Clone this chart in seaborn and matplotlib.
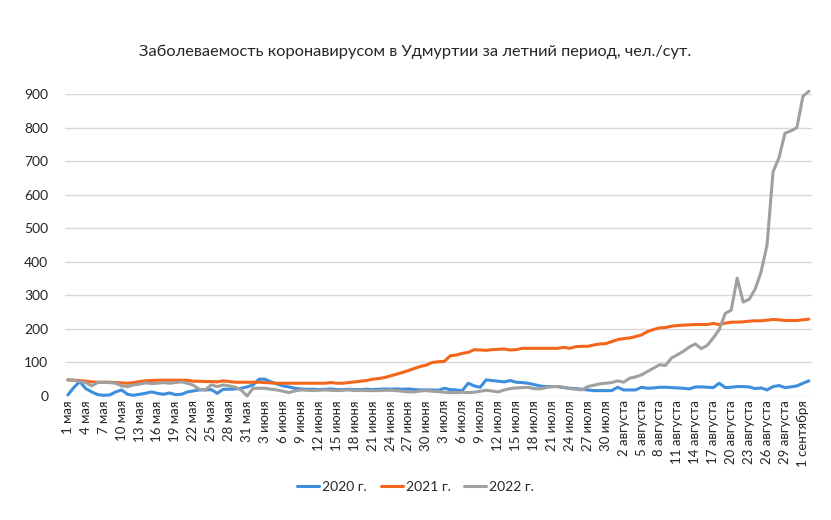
import pandas as pd
import matplotlib.pyplot as plt
import seaborn as sns

# months and day counts for the summer period (1 May .. 2 September)
months = [('мая', 31), ('июня', 30), ('июля', 31), ('августа', 31), ('сентября', 2)]
days = []
for name, n in months:
    for d in range(1, n + 1):
        days.append(f'{d} {name}')

cases_2020 = [3, 25, 43, 22, 12, 4, 2, 3, 12, 18,
              5, 2, 5, 8, 12, 8, 5, 9, 4, 5,
              12, 15, 18, 18, 19, 8, 20, 20, 21, 23,
              27, 33, 50, 50, 42, 36, 30, 27, 23, 21,
              20, 20, 19, 20, 21, 19, 19, 20, 19, 19,
              20, 19, 20, 21, 20, 21, 20, 21, 19, 18,
              18, 18, 17, 23, 19, 18, 16, 38, 30, 26,
              48, 46, 44, 42, 46, 41, 40, 38, 34, 30,
              28, 28, 28, 25, 23, 22, 20, 18, 16, 16,
              16, 16, 26, 18, 18, 18, 26, 23, 24, 26,
              26, 25, 24, 23, 21, 27, 27, 26, 25, 38,
              25, 26, 28, 28, 27, 22, 24, 18, 28, 31,
              25, 27, 30, 38, 45]

cases_2021 = [48, 47, 46, 44, 42, 41, 41, 41, 40, 39,
              38, 40, 43, 45, 46, 47, 47, 47, 47, 47,
              47, 44, 44, 43, 43, 42, 45, 43, 41, 41,
              41, 41, 41, 40, 39, 38, 38, 38, 38, 38,
              38, 38, 38, 38, 40, 38, 38, 40, 42, 44,
              46, 50, 52, 55, 60, 65, 70, 76, 82, 88,
              92, 100, 102, 103, 120, 122, 127, 130, 138, 137,
              136, 138, 139, 140, 137, 138, 142, 142, 142, 142,
              142, 142, 142, 145, 142, 147, 148, 148, 152, 155,
              156, 162, 168, 171, 173, 177, 182, 192, 198, 203,
              204, 208, 210, 211, 212, 213, 213, 213, 216, 213,
              217, 220, 220, 221, 223, 224, 224, 226, 228, 227,
              225, 225, 225, 227, 229]

cases_2022 = [48, 47, 43, 40, 30, 40, 41, 40, 38, 30,
              28, 33, 35, 39, 37, 38, 40, 38, 40, 42,
              38, 32, 20, 18, 33, 28, 33, 30, 26, 18,
              0, 23, 23, 23, 20, 18, 14, 10, 15, 18,
              17, 16, 17, 18, 17, 16, 17, 18, 16, 17,
              16, 16, 16, 17, 17, 16, 14, 12, 12, 15,
              16, 14, 13, 11, 10, 10, 11, 10, 11, 14,
              17, 15, 12, 18, 22, 24, 25, 26, 22, 21,
              25, 28, 28, 26, 22, 20, 18, 28, 32, 36,
              38, 40, 45, 41, 53, 57, 63, 73, 83, 93,
              91, 113, 123, 133, 146, 155, 141, 151, 173, 198,
              246, 256, 351, 280, 288, 318, 370, 450, 668, 710,
              783, 790, 800, 893, 908]

series = ['2020 г.', '2021 г.', '2022 г.']
colors = ['#3E8EDE', '#F4661B', '#A0A0A0']

df = pd.DataFrame({
    'day': list(range(len(days))) * 3,
    'cases': cases_2020 + cases_2021 + cases_2022,
    'year': [s for s in series for _ in days],
})

sns.set_theme(style='white')
plt.rcParams['font.family'] = ['Lato', 'DejaVu Sans']

fig = plt.figure(figsize=(8.31, 5.2), dpi=100)
ax = fig.add_axes([0.078, 0.2385, 0.899, 0.5808])

sns.lineplot(data=df, x='day', y='cases', hue='year', palette=colors,
             linewidth=2.2, ax=ax, clip_on=False)

ax.set_xlim(-0.5, len(days) - 0.5)
ax.set_ylim(0, 900)
ax.set_yticks(range(0, 901, 100))
ax.tick_params(axis='y', labelsize=10, length=0, pad=12)
ticks = list(range(0, len(days), 3))
ax.set_xticks(ticks)
ax.set_xticklabels([days[i] for i in ticks], rotation=90, fontsize=9.5)
ax.tick_params(axis='x', length=0, pad=3)
ax.grid(axis='y', color='#d9d9d9', linewidth=1)
ax.set_axisbelow(True)
for s in ax.spines.values():
    s.set_visible(False)
ax.set_xlabel('')
ax.set_ylabel('')

fig.text(0.5, 0.9, 'Заболеваемость коронавирусом в Удмуртии за летний период, чел./сут.',
         ha='center', va='center', fontsize=11.8)

handles, labels = ax.get_legend_handles_labels()
ax.get_legend().remove()
fig.legend(handles, labels, loc='center', bbox_to_anchor=(0.5, 0.063), ncol=3,
           frameon=False, fontsize=10, handlelength=1.6, handletextpad=0.2,
           columnspacing=1.0)

fig.savefig('out.png', dpi=100, facecolor='white')
